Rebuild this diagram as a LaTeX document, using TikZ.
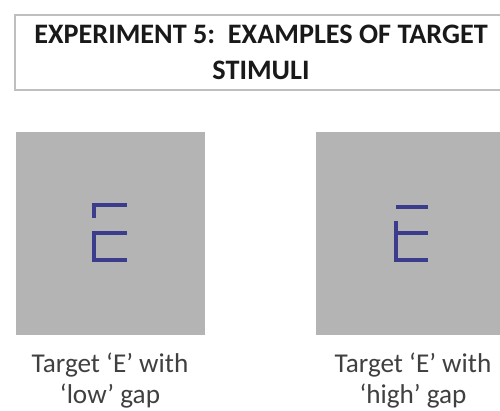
\documentclass[tikz,border=0pt]{standalone}
\usepackage{fontspec}
\setmainfont{Carlito}
\begin{document}
\begin{tikzpicture}[x=1pt,y=-1pt,
  titlebox/.style={draw=black!25,line width=1.2pt,fill=white},
  stimbox/.style={fill=stimgray,draw=none},
  eline/.style={draw=ecol,line width=3.2pt,line cap=butt},
  captxt/.style={text=black!75,align=center,inner sep=0pt,font=\fontsize{27.2}{31}\selectfont},
  titletxt/.style={text=black!90,align=center,inner sep=0pt,font=\bfseries\fontsize{28.2}{36}\selectfont}]
\definecolor{stimgray}{RGB}{180,180,180}
\definecolor{ecol}{RGB}{60,60,140}
\useasboundingbox (0,0) rectangle (500,411);
\fill[white] (0,0) rectangle (500,411);
% title
\draw[titlebox] (15,15) rectangle (510,90);
\node[titletxt,anchor=base] (title) at (261,80) {EXPERIMENT 5:\ \ EXAMPLES OF TARGET\\STIMULI};
% stimulus squares
\path[stimbox] (16,132) rectangle (205,335);
\path[stimbox] (316,132) rectangle (505,335);
% low gap E
\draw[eline] (127,205) -- (94,205) -- (94,218);
\draw[eline] (127,233) -- (94,233) -- (94,260) -- (127,260);
% high gap E
\draw[eline] (396,207) -- (428,207);
\draw[eline] (396,221) -- (396,260) -- (428,260);
\draw[eline] (396,233) -- (428,233);
% captions
\node[captxt,anchor=base] (capL) at (110,403) {Target ‘E’ with\\‘low’ gap};
\node[captxt,anchor=base] (capR) at (413,403) {Target ‘E’ with\\‘high’ gap};
\end{tikzpicture}
\end{document}
